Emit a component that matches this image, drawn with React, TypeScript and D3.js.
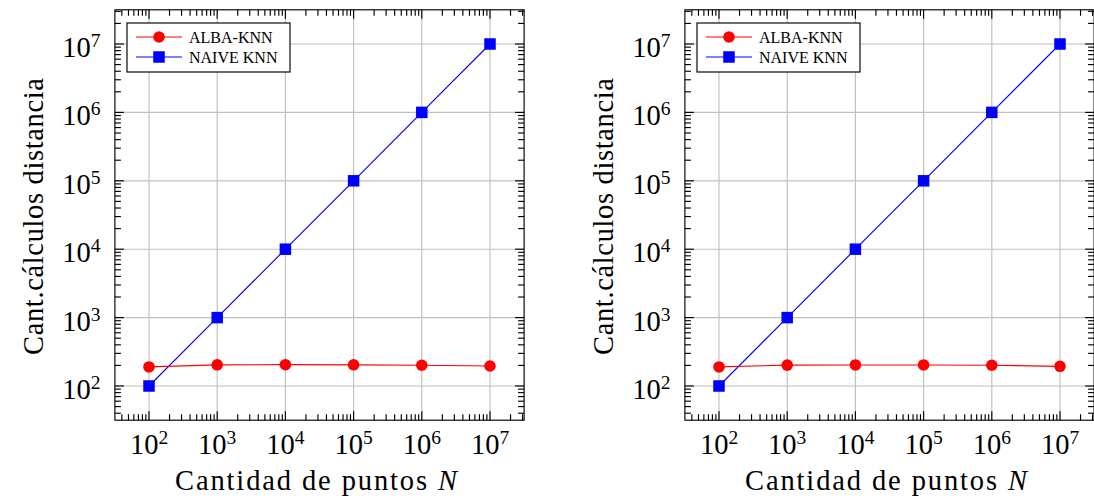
import React from "react";
import * as d3 from "d3";

// ---- data ----
const X_VALUES = [1e2, 1e3, 1e4, 1e5, 1e6, 1e7];
const ALBA_LEFT = [190, 204, 205, 204, 201, 196];
const NAIVE_LEFT = [1e2, 1e3, 1e4, 1e5, 1e6, 1e7];
const ALBA_RIGHT = [190, 202, 203, 203, 201, 194];
const NAIVE_RIGHT = [1e2, 1e3, 1e4, 1e5, 1e6, 1e7];
const TICK_EXPONENTS = [2, 3, 4, 5, 6, 7];
const LEGEND_LABELS = ["ALBA-KNN", "NAIVE KNN"];
const X_LABEL = "Cantidad de puntos ";
const X_LABEL_VAR = "N";
const Y_LABEL = "Cant.cálculos distancia";

const FONT = "'Liberation Serif', 'Times New Roman', serif";
const RED = "#ff0000";
const BLUE = "#0000ff";
const GRID = "#c0c0c0";
const LW = 1.15;

const W = 1094;
const H = 500;

const DOMAIN: [number, number] = [Math.pow(10, 1.5), Math.pow(10, 7.5)];
const AX_L = 114.9;
const AX_R = 524.1;
const AX_T = 9.8;
const AX_B = 420.2;
const PANEL_OFFSETS = [0, 570];

function minorValues(): number[] {
  const out: number[] = [];
  for (let k = 1; k <= 7; k++) {
    for (let m = 2; m <= 9; m++) {
      const v = m * Math.pow(10, k);
      if (v > DOMAIN[0] && v < DOMAIN[1]) out.push(v);
    }
  }
  return out;
}

function Panel({ offset, alba, naive }: { offset: number; alba: number[]; naive: number[] }) {
  const x = d3.scaleLog().domain(DOMAIN).range([AX_L, AX_R]);
  const y = d3.scaleLog().domain(DOMAIN).range([AX_B, AX_T]);
  const majors = TICK_EXPONENTS.map((e) => Math.pow(10, e));
  const minors = minorValues();
  const MAJ = 9;
  const MIN = 6;

  const line = d3
    .line<[number, number]>()
    .x((d) => x(d[0]))
    .y((d) => y(d[1]));
  const albaPts: [number, number][] = X_VALUES.map((v, i) => [v, alba[i]]);
  const naivePts: [number, number][] = X_VALUES.map((v, i) => [v, naive[i]]);

  const sq = 11.5;
  const cr = 5.8;

  const legY = [37, 57];

  return (
    <g transform={`translate(${offset},0)`}>
      {/* grid */}
      {majors.map((v) => (
        <line key={"gx" + v} x1={x(v)} x2={x(v)} y1={AX_T} y2={AX_B} stroke={GRID} strokeWidth={LW} />
      ))}
      {majors.map((v) => (
        <line key={"gy" + v} x1={AX_L} x2={AX_R} y1={y(v)} y2={y(v)} stroke={GRID} strokeWidth={LW} />
      ))}
      {/* ticks */}
      <g stroke="#000" strokeWidth={LW}>
        {majors.map((v) => (
          <g key={"tm" + v}>
            <line x1={x(v)} x2={x(v)} y1={AX_B} y2={AX_B - MAJ} />
            <line x1={x(v)} x2={x(v)} y1={AX_T} y2={AX_T + MAJ} />
            <line x1={AX_L} x2={AX_L + MAJ} y1={y(v)} y2={y(v)} />
            <line x1={AX_R} x2={AX_R - MAJ} y1={y(v)} y2={y(v)} />
          </g>
        ))}
        {minors.map((v) => (
          <g key={"tn" + v}>
            <line x1={x(v)} x2={x(v)} y1={AX_B} y2={AX_B - MIN} />
            <line x1={x(v)} x2={x(v)} y1={AX_T} y2={AX_T + MIN} />
            <line x1={AX_L} x2={AX_L + MIN} y1={y(v)} y2={y(v)} />
            <line x1={AX_R} x2={AX_R - MIN} y1={y(v)} y2={y(v)} />
          </g>
        ))}
      </g>
      {/* tick labels */}
      <g fontFamily={FONT} fill="#000">
        {TICK_EXPONENTS.map((e) => (
          <text key={"xl" + e} x={x(Math.pow(10, e))} y={454} textAnchor="middle" fontSize={28.5}>
            10
            <tspan fontSize={19.5} dy={-10}>
              {e}
            </tspan>
          </text>
        ))}
        {TICK_EXPONENTS.map((e) => (
          <text key={"yl" + e} x={100.5} y={y(Math.pow(10, e)) + 13} textAnchor="end" fontSize={28.5}>
            10
            <tspan fontSize={19.5} dy={-10}>
              {e}
            </tspan>
          </text>
        ))}
      </g>
      {/* axis labels */}
      <text x={316} y={490} textAnchor="middle" fontFamily={FONT} fontSize={28.5} textLength={282} lengthAdjust="spacing">
        {X_LABEL}
        <tspan fontStyle="italic">{X_LABEL_VAR}</tspan>
      </text>
      <text
        transform="translate(43,216.5) rotate(-90)"
        textAnchor="middle"
        fontFamily={FONT}
        fontSize={28.5}
        textLength={277}
        lengthAdjust="spacing"
      >
        {Y_LABEL}
      </text>
      {/* data */}
      <path d={line(naivePts) || ""} fill="none" stroke={BLUE} strokeWidth={LW} />
      <path d={line(albaPts) || ""} fill="none" stroke={RED} strokeWidth={LW} />
      {naivePts.map((p, i) => (
        <rect key={"s" + i} x={x(p[0]) - sq / 2} y={y(p[1]) - sq / 2} width={sq} height={sq} fill={BLUE} />
      ))}
      {albaPts.map((p, i) => (
        <circle key={"c" + i} cx={x(p[0])} cy={y(p[1])} r={cr} fill={RED} />
      ))}
      {/* border */}
      <rect x={AX_L} y={AX_T} width={AX_R - AX_L} height={AX_B - AX_T} fill="none" stroke="#000" strokeWidth={LW} />
      {/* legend */}
      <g>
        <rect x={127} y={23} width={163} height={49} fill="#fff" stroke="#000" strokeWidth={LW} />
        <line x1={136} x2={182} y1={legY[0]} y2={legY[0]} stroke={RED} strokeWidth={LW} />
        <circle cx={159} cy={legY[0]} r={cr} fill={RED} />
        <line x1={136} x2={182} y1={legY[1]} y2={legY[1]} stroke={BLUE} strokeWidth={LW} />
        <rect x={159 - sq / 2} y={legY[1] - sq / 2} width={sq} height={sq} fill={BLUE} />
        {LEGEND_LABELS.map((t, i) => (
          <text key={t} x={189} y={legY[i] + 5.5} fontFamily={FONT} fontSize={16}>
            {t}
          </text>
        ))}
      </g>
    </g>
  );
}

export default function App() {
  const data = [
    { alba: ALBA_LEFT, naive: NAIVE_LEFT },
    { alba: ALBA_RIGHT, naive: NAIVE_RIGHT },
  ];
  return (
    <svg
      width={W}
      height={H}
      viewBox={`0 0 ${W} ${H}`}
      style={{ position: "absolute", left: 0, top: 0, background: "#fff" }}
    >
      <rect x={0} y={0} width={W} height={H} fill="#fff" />
      {PANEL_OFFSETS.map((o, i) => (
        <Panel key={o} offset={o} alba={data[i].alba} naive={data[i].naive} />
      ))}
    </svg>
  );
}
